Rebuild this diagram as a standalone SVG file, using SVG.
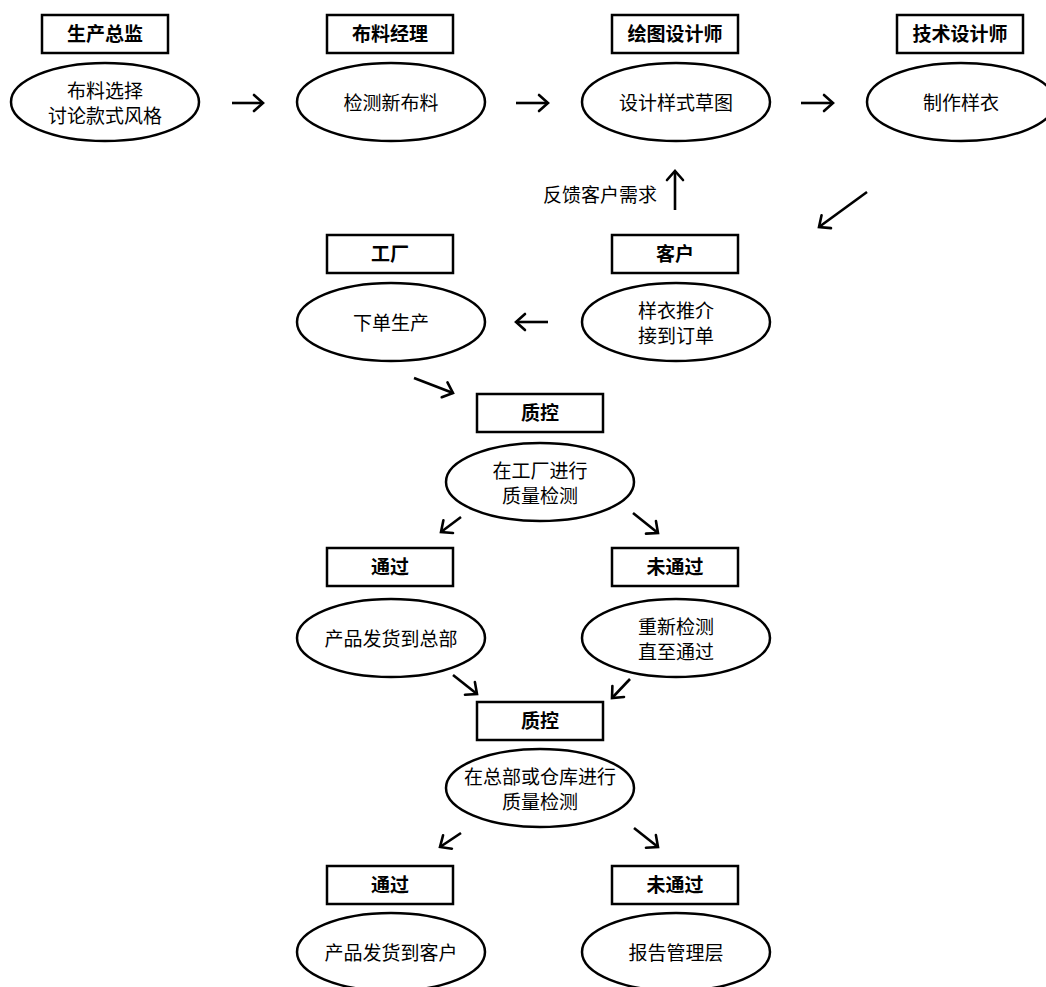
<svg xmlns="http://www.w3.org/2000/svg" width="1046" height="987" viewBox="0 0 1046 987">
<defs>
<style>
.box{fill:#fff;stroke:#000;stroke-width:2.5}
.ell{fill:#fff;stroke:#000;stroke-width:2.5}
.bt{font-family:"Noto Sans CJK SC","Liberation Sans",sans-serif;font-size:19px;font-weight:bold;text-anchor:middle;fill:#000}
.et{font-family:"Noto Sans CJK SC","Liberation Sans",sans-serif;font-size:19px;text-anchor:middle;fill:#000}
.arr{stroke:#000;stroke-width:2.6;fill:none;marker-end:url(#ah)}
</style>
<marker id="ah" markerUnits="userSpaceOnUse" markerWidth="20" markerHeight="20" refX="12" refY="10" orient="auto" overflow="visible">
<path d="M3,2 L12,10 L3,18" fill="none" stroke="#000" stroke-width="2.6" stroke-linecap="round" stroke-linejoin="miter"/>
</marker>
</defs>
<rect width="1046" height="987" fill="#fff"/>

<g id="n1">
<rect class="box" x="42" y="15" width="126" height="38"/>
<text class="bt" x="105" y="41">生产总监</text>
<ellipse class="ell" cx="105" cy="102" rx="94" ry="39"/>
<text class="et" x="105" y="98">布料选择</text>
<text class="et" x="105" y="123">讨论款式风格</text>
</g>
<g id="n2">
<rect class="box" x="327" y="15" width="126" height="38"/>
<text class="bt" x="390" y="41">布料经理</text>
<ellipse class="ell" cx="391" cy="102" rx="94" ry="39"/>
<text class="et" x="391" y="110">检测新布料</text>
</g>
<g id="n3">
<rect class="box" x="612" y="15" width="126" height="38"/>
<text class="bt" x="675" y="41">绘图设计师</text>
<ellipse class="ell" cx="676" cy="102" rx="94" ry="39"/>
<text class="et" x="676" y="110">设计样式草图</text>
</g>
<g id="n4">
<rect class="box" x="897" y="15" width="126" height="38"/>
<text class="bt" x="960" y="41">技术设计师</text>
<ellipse class="ell" cx="961" cy="102" rx="94" ry="39"/>
<text class="et" x="961" y="110">制作样衣</text>
</g>
<g id="n5">
<rect class="box" x="612" y="235" width="126" height="38"/>
<text class="bt" x="675" y="261">客户</text>
<ellipse class="ell" cx="676" cy="322" rx="94" ry="39"/>
<text class="et" x="676" y="318">样衣推介</text>
<text class="et" x="676" y="343">接到订单</text>
</g>
<g id="n6">
<rect class="box" x="327" y="235" width="126" height="38"/>
<text class="bt" x="390" y="261">工厂</text>
<ellipse class="ell" cx="391" cy="322" rx="94" ry="39"/>
<text class="et" x="391" y="330">下单生产</text>
</g>
<g id="n7">
<rect class="box" x="477" y="394" width="126" height="38"/>
<text class="bt" x="540" y="420">质控</text>
<ellipse class="ell" cx="540" cy="482" rx="94" ry="39"/>
<text class="et" x="540" y="478">在工厂进行</text>
<text class="et" x="540" y="503">质量检测</text>
</g>
<g id="n8">
<rect class="box" x="327" y="548" width="126" height="38"/>
<text class="bt" x="390" y="574">通过</text>
<ellipse class="ell" cx="391" cy="638" rx="94" ry="39"/>
<text class="et" x="391" y="646">产品发货到总部</text>
</g>
<g id="n9">
<rect class="box" x="612" y="548" width="126" height="38"/>
<text class="bt" x="675" y="574">未通过</text>
<ellipse class="ell" cx="676" cy="638" rx="94" ry="39"/>
<text class="et" x="676" y="634">重新检测</text>
<text class="et" x="676" y="659">直至通过</text>
</g>
<g id="n10">
<rect class="box" x="477" y="702" width="126" height="38"/>
<text class="bt" x="540" y="728">质控</text>
<ellipse class="ell" cx="540" cy="788" rx="94" ry="39"/>
<text class="et" x="540" y="784">在总部或仓库进行</text>
<text class="et" x="540" y="809">质量检测</text>
</g>
<g id="n11">
<rect class="box" x="327" y="866" width="126" height="38"/>
<text class="bt" x="390" y="892">通过</text>
<ellipse class="ell" cx="391" cy="952" rx="94" ry="39"/>
<text class="et" x="391" y="960">产品发货到客户</text>
</g>
<g id="n12">
<rect class="box" x="612" y="866" width="126" height="38"/>
<text class="bt" x="675" y="892">未通过</text>
<ellipse class="ell" cx="676" cy="952" rx="94" ry="39"/>
<text class="et" x="676" y="960">报告管理层</text>
</g>

<g id="connectors">
<line class="arr" x1="232" y1="103" x2="263" y2="103"/>
<line class="arr" x1="516" y1="103" x2="548" y2="103"/>
<line class="arr" x1="801" y1="103" x2="833" y2="103"/>
<line class="arr" x1="675" y1="210" x2="675" y2="171"/>
<text class="et" x="657" y="202" style="text-anchor:end">反馈客户需求</text>
<line class="arr" x1="867" y1="192" x2="819" y2="227"/>
<line class="arr" x1="548" y1="322" x2="516" y2="322"/>
<line class="arr" x1="414" y1="378" x2="453" y2="393"/>
<line class="arr" x1="461" y1="517" x2="441" y2="532"/>
<line class="arr" x1="633" y1="513" x2="658" y2="533"/>
<line class="arr" x1="453" y1="675" x2="477" y2="694"/>
<line class="arr" x1="630" y1="679" x2="612" y2="698"/>
<line class="arr" x1="461" y1="833" x2="440" y2="847"/>
<line class="arr" x1="634" y1="828" x2="658" y2="847"/>
</g>
</svg>
